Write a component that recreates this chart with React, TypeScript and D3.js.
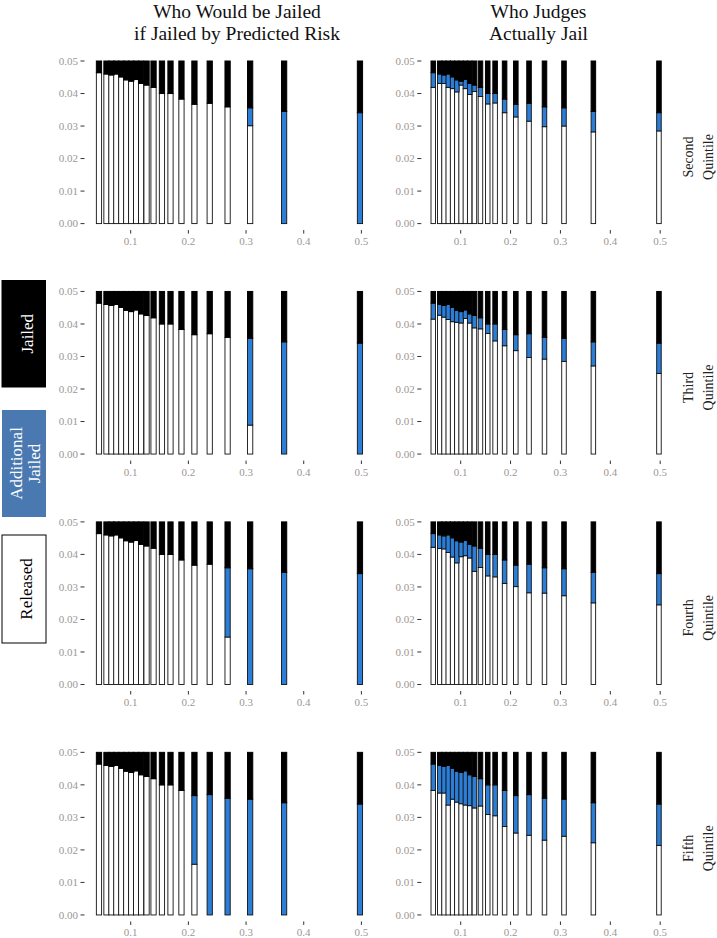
import React from 'react';
import * as d3 from 'd3';

// ---- data ----
const riskBins = [0.045, 0.058, 0.0666, 0.0751, 0.0837, 0.0923, 0.1009, 0.1094, 0.118, 0.1275,
  0.1396, 0.1542, 0.169, 0.188, 0.2105, 0.237, 0.268, 0.3071, 0.366, 0.4975];

// share released by the most lenient quintile (bottom of the black "Jailed" segment)
const lenientReleased = [0.0464, 0.0460, 0.0457, 0.0460, 0.0451, 0.0442, 0.0438, 0.0443, 0.0431, 0.0426,
  0.0419, 0.0400, 0.0400, 0.0383, 0.0367, 0.0370, 0.0359, 0.0356, 0.0345, 0.0341];

// released if jailed by predicted risk (left column)
const algoReleasedQ2 = [0.0464, 0.0460, 0.0457, 0.0460, 0.0451, 0.0442, 0.0438, 0.0443, 0.0431, 0.0426,
  0.0419, 0.0400, 0.0400, 0.0383, 0.0367, 0.0370, 0.0359, 0.0301, 0, 0];
const algoReleasedQ3 = [0.0464, 0.0460, 0.0457, 0.0460, 0.0451, 0.0442, 0.0438, 0.0443, 0.0431, 0.0426,
  0.0419, 0.0400, 0.0400, 0.0383, 0.0367, 0.0370, 0.0359, 0.0089, 0, 0];
const algoReleasedQ4 = [0.0464, 0.0460, 0.0457, 0.0460, 0.0451, 0.0442, 0.0438, 0.0443, 0.0431, 0.0426,
  0.0419, 0.0400, 0.0400, 0.0383, 0.0367, 0.0370, 0.0146, 0, 0, 0];
const algoReleasedQ5 = [0.0464, 0.0460, 0.0457, 0.0460, 0.0451, 0.0442, 0.0438, 0.0443, 0.0431, 0.0426,
  0.0419, 0.0400, 0.0400, 0.0383, 0.0156, 0, 0, 0, 0, 0];

// released by judges of each quintile (right column)
const judgeReleasedQ2 = [0.0419, 0.0431, 0.0431, 0.0419, 0.0415, 0.0405, 0.0426, 0.0415, 0.0397, 0.0406,
  0.0391, 0.0368, 0.0371, 0.0341, 0.0328, 0.0315, 0.0298, 0.0300, 0.0282, 0.0285];
const judgeReleasedQ3 = [0.0415, 0.0427, 0.0421, 0.0414, 0.0407, 0.0405, 0.0403, 0.0417, 0.0403, 0.0388,
  0.0385, 0.0371, 0.0348, 0.0333, 0.0318, 0.0297, 0.0292, 0.0285, 0.0271, 0.0248];
const judgeReleasedQ4 = [0.0422, 0.0418, 0.0417, 0.0406, 0.0392, 0.0374, 0.0393, 0.0396, 0.0389, 0.0348,
  0.0360, 0.0334, 0.0331, 0.0311, 0.0301, 0.0282, 0.0281, 0.0273, 0.0251, 0.0245];
const judgeReleasedQ5 = [0.0383, 0.0375, 0.0375, 0.0338, 0.0356, 0.0347, 0.0342, 0.0338, 0.0336, 0.0329,
  0.0335, 0.0309, 0.0305, 0.0272, 0.0252, 0.0245, 0.0230, 0.0242, 0.0222, 0.0214];

const quintileLabels = ['Second', 'Third', 'Fourth', 'Fifth'];
const algoRows = [algoReleasedQ2, algoReleasedQ3, algoReleasedQ4, algoReleasedQ5];
const judgeRows = [judgeReleasedQ2, judgeReleasedQ3, judgeReleasedQ4, judgeReleasedQ5];

const yTicks = [0, 0.01, 0.02, 0.03, 0.04, 0.05];
const xTicks = [0.1, 0.2, 0.3, 0.4, 0.5];
const titleLeft = ['Who Would be Jailed', 'if Jailed by Predicted Risk'];
const titleRight = ['Who Judges', 'Actually Jail'];

// ---- styling ----
const W = 717;
const H = 938;
const SERIF = '"Liberation Serif", "DejaVu Serif", serif';
const BLUE = '#2b7dd6';
const LEGEND_BLUE = '#4a78b0';
const TICK_GRAY = '#9c9696';
const BAR_W = 0.0091;
const ROW_TOP = 61;
const ROW_STEP = 230.45;
const PANEL_H = 162.6;

const fmtY = d3.format('.2f');
const fmtX = d3.format('.1f');

type PanelProps = {
  xRange: [number, number];
  top: number;
  released: number[];
  tickX: number;
};

function Panel({ xRange, top, released, tickX }: PanelProps) {
  const x = d3.scaleLinear().domain([0.1, 0.5]).range(xRange);
  const y = d3.scaleLinear().domain([0, 0.05]).range([top + PANEL_H, top]);
  const bottom = y(0);
  const bars = riskBins.map((v, i) => {
    const x0 = x(v - BAR_W / 2);
    return { i, x0, w: x(v + BAR_W / 2) - x0, rel: released[i], jl: lenientReleased[i] };
  });
  return (
    <g>
      {yTicks.map((t) => (
        <g key={'y' + t}>
          <line x1={tickX} x2={tickX + 4} y1={y(t)} y2={y(t)} stroke="#333" strokeWidth={1} />
          <text x={tickX - 2.5} y={y(t) + 3.8} textAnchor="end" fontFamily={SERIF} fontSize={11} fill={TICK_GRAY}>
            {fmtY(t)}
          </text>
        </g>
      ))}
      {xTicks.map((t) => (
        <g key={'x' + t}>
          <line x1={x(t)} x2={x(t)} y1={bottom + 6.5} y2={bottom + 10} stroke="#333" strokeWidth={1} />
          <text x={x(t)} y={bottom + 21.5} textAnchor="middle" fontFamily={SERIF} fontSize={11} fill={TICK_GRAY}>
            {fmtX(t)}
          </text>
        </g>
      ))}
      <g className="released">
        {bars.filter((b) => b.rel > 0).map((b) => (
          <rect key={'w' + b.i} x={b.x0} y={y(b.rel)} width={b.w} height={bottom - y(b.rel)} fill="#fff" stroke="#111" strokeWidth={0.9} />
        ))}
      </g>
      <g className="additional">
        {bars.filter((b) => b.jl > b.rel).map((b) => (
          <rect key={'a' + b.i} x={b.x0} y={y(b.jl)} width={b.w} height={y(b.rel) - y(b.jl)} fill={BLUE} stroke="#111" strokeWidth={0.9} />
        ))}
      </g>
      <g className="jailed">
        {bars.map((b) => (
          <rect key={'j' + b.i} x={b.x0} y={y(0.05)} width={b.w} height={y(b.jl) - y(0.05)} fill="#000" stroke="#000" strokeWidth={1} />
        ))}
      </g>
    </g>
  );
}

export default function App() {
  return (
    <div style={{ position: 'absolute', left: 0, top: 0 }}>
      <svg width={W} height={H} style={{ display: 'block', background: '#fff' }}>
        {/* titles */}
        {titleLeft.map((t, i) => (
          <text key={'tl' + i} x={237} y={18 + i * 22} textAnchor="middle" fontFamily={SERIF} fontSize={19.5} fill="#111">
            {t}
          </text>
        ))}
        {titleRight.map((t, i) => (
          <text key={'tr' + i} x={538.5} y={18 + i * 22} textAnchor="middle" fontFamily={SERIF} fontSize={19.5} fill="#111">
            {t}
          </text>
        ))}

        {/* legend */}
        <rect x={1.5} y={280} width={44.5} height={107.5} fill="#000" />
        <text transform="translate(32.5,333.7) rotate(-90)" textAnchor="middle" fontFamily={SERIF} fontSize={17} fill="#fff">
          Jailed
        </text>
        <rect x={2} y={410} width={44} height={107} fill={LEGEND_BLUE} />
        <text transform="translate(22,463.5) rotate(-90)" textAnchor="middle" fontFamily={SERIF} fontSize={17} fill="#fff">
          Additional
        </text>
        <text transform="translate(39.5,463.5) rotate(-90)" textAnchor="middle" fontFamily={SERIF} fontSize={17} fill="#fff">
          Jailed
        </text>
        <rect x={2} y={535} width={44} height={108} fill="#fff" stroke="#000" strokeWidth={1} />
        <text transform="translate(31.5,589) rotate(-90)" textAnchor="middle" fontFamily={SERIF} fontSize={17} fill="#000">
          Released
        </text>

        {/* panels */}
        {quintileLabels.map((q, r) => {
          const top = ROW_TOP + r * ROW_STEP;
          return (
            <g key={q}>
              <Panel xRange={[130.7, 361.4]} top={top} released={algoRows[r]} tickX={80.5} />
              <Panel xRange={[460.7, 660.2]} top={top} released={judgeRows[r]} tickX={417.3} />
              <text transform={`translate(693.3,${top + 96}) rotate(-90)`} textAnchor="middle" fontFamily={SERIF} fontSize={14} fill="#222">
                {q}
              </text>
              <text transform={`translate(713,${top + 96}) rotate(-90)`} textAnchor="middle" fontFamily={SERIF} fontSize={14} fill="#222">
                Quintile
              </text>
            </g>
          );
        })}
      </svg>
    </div>
  );
}
